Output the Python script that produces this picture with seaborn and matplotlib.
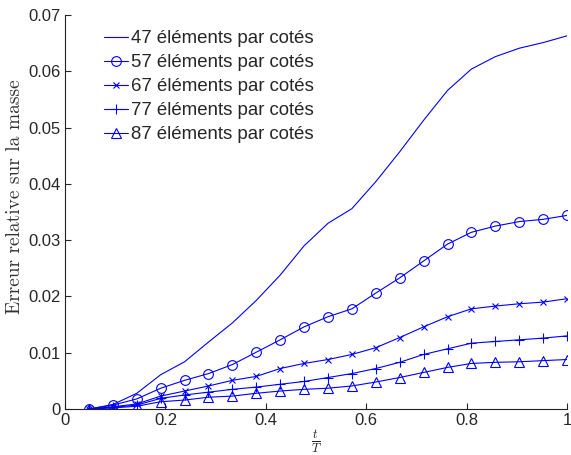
import numpy as np
import pandas as pd
import matplotlib
matplotlib.use("Agg")
import matplotlib.pyplot as plt
import seaborn as sns
from matplotlib.ticker import FuncFormatter

# time points t/T (21 steps)
t = [k / 21 for k in range(1, 22)]

err_47 = [0.0, 0.0008, 0.0028, 0.0061, 0.0084, 0.0119, 0.0153, 0.0193, 0.0238, 0.0290,
          0.0330, 0.0356, 0.0404, 0.0457, 0.0513, 0.0566, 0.0604, 0.0626, 0.0641, 0.0651, 0.0663]
err_57 = [0.0, 0.0007, 0.0018, 0.0037, 0.0051, 0.0063, 0.0079, 0.0101, 0.0123, 0.0146,
          0.0164, 0.0178, 0.0206, 0.0233, 0.0263, 0.0293, 0.0314, 0.0325, 0.0333, 0.0337, 0.0344]
err_67 = [0.0, 0.0004, 0.0009, 0.0023, 0.0032, 0.0041, 0.0051, 0.0058, 0.0072, 0.0081,
          0.0088, 0.0097, 0.0109, 0.0127, 0.0146, 0.0164, 0.0178, 0.0183, 0.0187, 0.0190, 0.0196]
err_77 = [0.0, 0.0003, 0.0007, 0.0019, 0.0025, 0.0030, 0.0035, 0.0039, 0.0044, 0.0049,
          0.0056, 0.0063, 0.0072, 0.0083, 0.0097, 0.0107, 0.0117, 0.0120, 0.0123, 0.0126, 0.0130]
err_87 = [0.0, 0.0002, 0.0005, 0.0013, 0.0016, 0.0021, 0.0023, 0.0028, 0.0032, 0.0035,
          0.0037, 0.0041, 0.0048, 0.0056, 0.0065, 0.0074, 0.0081, 0.0083, 0.0084, 0.0086, 0.0088]

labels = ["47 éléments par cotés", "57 éléments par cotés", "67 éléments par cotés",
          "77 éléments par cotés", "87 éléments par cotés"]
series = [err_47, err_57, err_67, err_77, err_87]
markers = [None, "o", "x", "+", "^"]
msizes = [0, 7, 4.5, 6.5, 7.5]

x_ticks = [0, 0.2, 0.4, 0.6, 0.8, 1]
y_ticks = [0, 0.01, 0.02, 0.03, 0.04, 0.05, 0.06, 0.07]

sns.set_style("ticks")
plt.rcParams["font.family"] = ["Liberation Sans", "DejaVu Sans"]
plt.rcParams["mathtext.fontset"] = "cm"

fig = plt.figure(figsize=(5.71, 4.55), dpi=100)
ax = fig.add_axes([0.114, 0.101, 0.879, 0.866])

for lab, vals, m, ms in zip(labels, series, markers, msizes):
    df = pd.DataFrame({"t": t, "err": vals})
    sns.lineplot(data=df, x="t", y="err", ax=ax, color="blue", linewidth=0.8,
                 marker=m, markersize=ms, markerfacecolor="none",
                 markeredgecolor="blue", markeredgewidth=0.8, label=lab)

ax.set_xlim(0, 1)
ax.set_ylim(0, 0.07)
ax.set_xticks(x_ticks)
ax.set_yticks(y_ticks)
fmt = FuncFormatter(lambda v, p: "%g" % round(v, 4))
ax.xaxis.set_major_formatter(fmt)
ax.yaxis.set_major_formatter(fmt)
ax.tick_params(direction="in", labelsize=12, length=4, width=0.8, pad=3)
for s in ["top", "right"]:
    ax.spines[s].set_visible(False)
for s in ["left", "bottom"]:
    ax.spines[s].set_linewidth(0.8)
    ax.spines[s].set_color("#222222")

ax.set_xlabel(r"$\frac{t}{T}$", fontsize=13, labelpad=0)
ax.set_ylabel("Erreur relative sur la masse", family=["cmr10", "DejaVu Serif"],
              fontsize=14, color="#333333")
ax.yaxis.set_label_coords(-0.082, 0.54)

leg = ax.legend(loc="upper left", bbox_to_anchor=(0.078, 0.962), frameon=False,
                fontsize=13.4, handlelength=1.28, handletextpad=0.15, labelspacing=0.38,
                borderaxespad=0, borderpad=0)

fig.savefig("out.png", dpi=100, facecolor="white")
